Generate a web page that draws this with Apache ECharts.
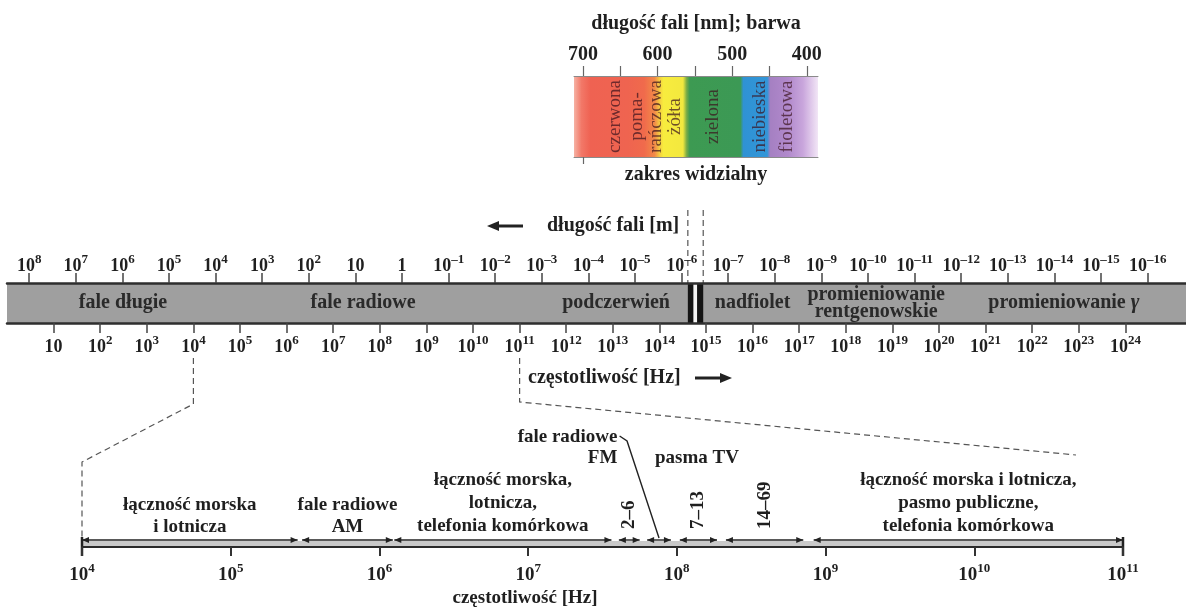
<!DOCTYPE html>
<html>
<head>
<meta charset="utf-8">
<script src="https://cdn.jsdelivr.net/npm/echarts@6/dist/echarts.min.js"></script>
<style>html,body{margin:0;padding:0;background:#fff}#c{width:1186px;height:608px}</style>
</head>
<body>
<div id="c"></div>
<script>
// ================= DATA =================
// main spectrum: frequency tick exponents (Hz) and wavelength tick exponents (m)
const freqTickExp = [1,2,3,4,5,6,7,8,9,10,11,12,13,14,15,16,17,18,19,20,21,22,23,24];
const waveTickExp = [8,7,6,5,4,3,2,1,0,-1,-2,-3,-4,-5,-6,-7,-8,-9,-10,-11,-12,-13,-14,-15,-16];
const spectrumRangeLogF = [0, 25.3];
const spectrumNames = ['fale długie', 'fale radiowe', 'podczerwień', 'nadfiolet', 'promieniowanie\nrentgenowskie', 'promieniowanie γ'];
const spectrumNameLogF = [2.49, 7.64, 13.07, 16.0, 18.65, 22.68];
const visibleBandLogF = [14.61, 14.94];

// visible light inset (nm)
const nmRange = [385, 712];
const nmTicks = [700, 650, 600, 550, 500, 450, 400];
const nmLabels = [700, 600, 500, 400];
const nmBottomTicks = [700];
const colorNames = ['czerwona', 'poma-\nrańczowa', 'żółta', 'zielona', 'niebieska', 'fioletowa'];
const colorNameNm = [657, 615, 577, 526, 463, 427];
const colorStopNm = [712, 702, 690, 640, 618, 604, 597, 592, 566, 561, 557, 489, 485, 453, 449, 425, 405, 385];
const colorStopHex = ['#f6b2a4','#f27868','#ef6252','#ef6450','#f06a4c','#f28a48','#f5cf40','#f8ec3e','#f3e83e','#79ab46','#3d9a52','#3c9955','#2f92d4','#3296d8','#a580c2','#b189cc','#c9a6dc','#f2e6f6'];

// radio zoom (log10 of Hz)
const zoomTickExp = [4,5,6,7,8,9,10,11];
const zoomRangeLogF = [[4,5.45],[5.48,6.09],[6.1,7.56],[7.61,7.75],[7.8,7.96],[8.02,8.27],[8.33,8.85],[8.92,11]];
const zoomRangeNames = ['łączność morska\ni lotnicza', 'fale radiowe\nAM', 'łączność morska,\nlotnicza,\ntelefonia komórkowa', '2–6', '', '7–13', '14–69', 'łączność morska i lotnicza,\npasmo publiczne,\ntelefonia komórkowa'];
const fmName = 'fale radiowe\nFM';
const tvName = 'pasma TV';

// ================= LAYOUT / STYLE =================
const SERIF = '"Liberation Serif", "Times New Roman", serif';
const INK = '#1f1f1f';
const FONT = 'bold 19px ' + SERIF;
const L = Math.log10(2.998e8);            // log10(c): shifts wavelength scale against frequency scale
const zoomLabelH = [31, 31, 44, 18, 0, 18, 18, 44];       // label height above zoom axis (px)
const zoomLabelRot = [false, false, false, true, false, true, true, false];
const fmAnchor = [7.6, 99];
const fmPointer = [[7.615, 111], [7.665, 106], [7.88, 9]];
const tvAnchor = [8.135, 89];

function pow10(e, big) {
  const b = big ? 'B' : 'b', s = big ? 'S' : 's';
  if (e === 0) return '{' + b + '|1}';
  if (e === 1) return '{' + b + '|10}';
  const t = e < 0 ? '–' + (-e) : '' + e;
  return '{' + b + '|10}{' + s + '|' + t + '}';
}
const rich = {
  b: {fontFamily: SERIF, fontWeight: 'bold', fontSize: 18, lineHeight: 22, verticalAlign: 'bottom', color: INK},
  s: {fontFamily: SERIF, fontWeight: 'bold', fontSize: 13, lineHeight: 11, verticalAlign: 'top', color: INK},
  B: {fontFamily: SERIF, fontWeight: 'bold', fontSize: 19, lineHeight: 23, verticalAlign: 'bottom', color: INK},
  S: {fontFamily: SERIF, fontWeight: 'bold', fontSize: 13, lineHeight: 11, verticalAlign: 'top', color: INK}
};

const textEl = (x, y, text, opt) => Object.assign({
  type: 'text', x: x, y: y,
  style: Object.assign({
    text: text, fill: INK, font: FONT,
    align: 'center', verticalAlign: 'middle', textAlign: 'center', textVerticalAlign: 'middle', lineHeight: 22
  }, opt && opt.style)
}, opt && opt.el);

function arrowHead(tip, dir, len, half) {
  return {type: 'polygon', shape: {points: [[tip[0], tip[1]], [tip[0] - dir * len, tip[1] - half], [tip[0] - dir * len, tip[1] + half]]}, style: {fill: '#222'}};
}

const chart = echarts.init(document.getElementById('c'), null, {renderer: 'canvas'});

const gradStops = colorStopNm.map((nm, i) => ({offset: (nmRange[1] - nm) / (nmRange[1] - nmRange[0]), color: colorStopHex[i]}));

const option = {
  animation: false,
  backgroundColor: '#ffffff',
  grid: [
    {left: 7, right: 0, top: 283, height: 40},
    {left: 82, right: 63, top: 440, height: 107},
    {left: 574, right: 368, top: 76, height: 81}
  ],
  xAxis: [
    { // frequency scale under main band
      gridIndex: 0, type: 'value', min: spectrumRangeLogF[0], max: spectrumRangeLogF[1], position: 'bottom', z: 10,
      axisLine: {show: true, onZero: false, lineStyle: {color: '#2e2e2e', width: 2.5}},
      axisTick: {show: true, customValues: freqTickExp, length: 10, lineStyle: {color: '#444', width: 1.5}},
      axisLabel: {show: true, customValues: freqTickExp, margin: 11, formatter: v => pow10(Math.round(v)), rich: rich},
      splitLine: {show: false}
    },
    { // wavelength scale above main band (value = -log10(lambda))
      gridIndex: 0, type: 'value', min: spectrumRangeLogF[0] - L, max: spectrumRangeLogF[1] - L, position: 'top', z: 10,
      axisLine: {show: true, onZero: false, lineStyle: {color: '#2e2e2e', width: 2.5}},
      axisTick: {show: true, customValues: waveTickExp.map(e => -e), length: 10, lineStyle: {color: '#444', width: 1.5}},
      axisLabel: {show: true, customValues: waveTickExp.map(e => -e), margin: 8, formatter: v => pow10(-Math.round(v)), rich: rich},
      splitLine: {show: false}
    },
    { // radio zoom axis
      gridIndex: 1, type: 'value', min: 4, max: 11, interval: 1, position: 'bottom', z: 10,
      axisLine: {show: true, onZero: false, lineStyle: {color: '#2a2a2a', width: 2}},
      axisTick: {show: true, customValues: zoomTickExp, length: 9, lineStyle: {color: '#333', width: 2}},
      axisLabel: {show: true, customValues: zoomTickExp, margin: 15, formatter: v => pow10(Math.round(v), true), rich: rich},
      splitLine: {show: false}
    },
    { // visible inset, top (nm)
      gridIndex: 2, type: 'value', min: nmRange[0], max: nmRange[1], inverse: true, position: 'top', z: 10,
      axisLine: {show: true, onZero: false, lineStyle: {color: '#8a8a8a', width: 1}},
      axisTick: {show: true, customValues: nmTicks, length: 10, lineStyle: {color: '#666', width: 1.2}},
      axisLabel: {show: true, customValues: nmLabels, margin: 11, fontFamily: SERIF, fontWeight: 'bold', fontSize: 20, color: INK},
      splitLine: {show: false}
    },
    { // visible inset, bottom
      gridIndex: 2, type: 'value', min: nmRange[0], max: nmRange[1], inverse: true, position: 'bottom', z: 10,
      axisLine: {show: true, onZero: false, lineStyle: {color: '#8a8a8a', width: 1}},
      axisTick: {show: true, customValues: nmBottomTicks, length: 7, lineStyle: {color: '#666', width: 1.2}},
      axisLabel: {show: false},
      splitLine: {show: false}
    }
  ],
  yAxis: [
    {gridIndex: 0, type: 'value', min: 0, max: 1, show: false},
    {gridIndex: 1, type: 'value', min: 0, max: 107, show: false},
    {gridIndex: 2, type: 'value', min: 0, max: 1, show: false}
  ],
  series: [
    { // main grey band
      type: 'custom', xAxisIndex: 0, yAxisIndex: 0, z: 1,
      data: [spectrumRangeLogF],
      renderItem: (p, api) => {
        const a = api.coord([api.value(0), 1]), b = api.coord([api.value(1), 0]);
        return {type: 'rect', shape: {x: a[0], y: a[1], width: b[0] - a[0], height: b[1] - a[1]}, style: {fill: '#9f9f9f'}};
      }
    },
    { // visible light marker in band
      type: 'custom', xAxisIndex: 0, yAxisIndex: 0, z: 2,
      data: [visibleBandLogF],
      renderItem: (p, api) => {
        const a = api.coord([api.value(0), 1]), b = api.coord([api.value(1), 0]);
        const w = b[0] - a[0];
        return {type: 'group', children: [
          {type: 'rect', shape: {x: a[0], y: a[1], width: w, height: b[1] - a[1]}, style: {fill: '#141414'}},
          {type: 'rect', shape: {x: a[0] + w * 0.36, y: a[1], width: w * 0.24, height: b[1] - a[1]}, style: {fill: '#f4f4f4'}}
        ]};
      }
    },
    { // band names
      type: 'custom', xAxisIndex: 0, yAxisIndex: 0, z: 3,
      data: spectrumNameLogF.map((x, i) => [x, 0.5, i]),
      renderItem: (p, api) => {
        const c = api.coord([api.value(0), api.value(1)]);
        const name = spectrumNames[api.value(2)];
        if (name.indexOf('γ') >= 0) {
          return {type: 'text', x: c[0], y: c[1], style: {
            text: '{n|' + name.replace(' γ', ' ') + '}{g|γ}', align: 'center', verticalAlign: 'middle',
            rich: {n: {fontFamily: SERIF, fontWeight: 'bold', fontSize: 20, fill: '#2a2a2a', color: '#2a2a2a'},
                   g: {fontFamily: SERIF, fontWeight: 'bold', fontStyle: 'italic', fontSize: 21, fill: '#2a2a2a', color: '#2a2a2a'}}
          }};
        }
        return textEl(c[0], c[1], name, {style: {fill: '#2a2a2a', font: 'bold 20px ' + SERIF, lineHeight: 17}});
      }
    },
    { // zoom: grey strip
      type: 'custom', xAxisIndex: 2, yAxisIndex: 1, z: 1,
      data: [[4, 11]],
      renderItem: (p, api) => {
        const a = api.coord([api.value(0), 6]), b = api.coord([api.value(1), 0]);
        return {type: 'rect', shape: {x: a[0], y: a[1], width: b[0] - a[0], height: b[1] - a[1]}, style: {fill: '#c9c9c9'}};
      }
    },
    { // zoom: double-headed range arrows
      type: 'custom', xAxisIndex: 2, yAxisIndex: 1, z: 4,
      data: zoomRangeLogF,
      renderItem: (p, api) => {
        const a = api.coord([api.value(0), 7]), b = api.coord([api.value(1), 7]);
        return {type: 'group', children: [
          {type: 'line', shape: {x1: a[0], y1: a[1], x2: b[0], y2: b[1]}, style: {stroke: '#222', lineWidth: 1.4}},
          arrowHead(a, -1, 7, 3),
          arrowHead(b, 1, 7, 3)
        ]};
      }
    },
    { // zoom: end bars
      type: 'custom', xAxisIndex: 2, yAxisIndex: 1, z: 5,
      data: [[zoomTickExp[0]], [zoomTickExp[zoomTickExp.length - 1]]],
      renderItem: (p, api) => {
        const a = api.coord([api.value(0), 10]), b = api.coord([api.value(0), -9]);
        return {type: 'line', shape: {x1: a[0], y1: a[1], x2: b[0], y2: b[1]}, style: {stroke: '#222', lineWidth: 2.5}};
      }
    },
    { // zoom: range names
      type: 'custom', xAxisIndex: 2, yAxisIndex: 1, z: 6,
      data: zoomRangeLogF.map((r, i) => [(r[0] + r[1]) / 2, zoomLabelH[i], i]),
      renderItem: (p, api) => {
        const i = api.value(2);
        const name = zoomRangeNames[i];
        if (!name) return null;
        const c = api.coord([api.value(0), api.value(1)]);
        if (zoomLabelRot[i]) {
          return textEl(c[0], c[1], name, {el: {rotation: Math.PI / 2}, style: {align: 'left', textAlign: 'left'}});
        }
        return textEl(c[0], c[1], name, {style: {lineHeight: name.split('\n').length > 2 ? 23 : 22}});
      }
    },
    { // zoom: FM label + pointer and TV label
      type: 'custom', xAxisIndex: 2, yAxisIndex: 1, z: 6,
      data: [[0]],
      renderItem: (p, api) => {
        const f = api.coord(fmAnchor), t = api.coord(tvAnchor);
        const pts = fmPointer.map(q => api.coord(q));
        return {type: 'group', children: [
          textEl(f[0], f[1], fmName, {style: {align: 'right', textAlign: 'right', lineHeight: 21}}),
          textEl(t[0], t[1], tvName),
          {type: 'polyline', shape: {points: pts}, style: {stroke: '#222', lineWidth: 1.4, fill: null}}
        ]};
      }
    },
    { // visible spectrum colour strip
      type: 'custom', xAxisIndex: 3, yAxisIndex: 2, z: 1,
      data: [[nmRange[1], nmRange[0]]],
      renderItem: (p, api) => {
        const a = api.coord([api.value(0), 1]), b = api.coord([api.value(1), 0]);
        return {type: 'rect', shape: {x: a[0], y: a[1], width: b[0] - a[0], height: b[1] - a[1]},
          style: {fill: new echarts.graphic.LinearGradient(0, 0, 1, 0, gradStops)}};
      }
    },
    { // colour names
      type: 'custom', xAxisIndex: 3, yAxisIndex: 2, z: 3,
      data: colorNameNm.map((nm, i) => [nm, 0.5, i]),
      renderItem: (p, api) => {
        const c = api.coord([api.value(0), api.value(1)]);
        return textEl(c[0], c[1], colorNames[api.value(2)], {el: {rotation: Math.PI / 2},
          style: {font: '19px ' + SERIF, fill: 'rgba(60,20,30,0.72)', lineHeight: 19}});
      }
    }
  ]
};

chart.setOption(option);

// ---- decorations tied to the axes ----
const A = v => chart.convertToPixel({gridIndex: 0}, v);
const B = v => chart.convertToPixel({gridIndex: 1}, v);
const a4 = A([4, 0]), a11 = A([11, 0]);
const b4 = B([4, 0]), b11 = B([11, 0]);
const v0 = A([visibleBandLogF[0], 1]), v1 = A([visibleBandLogF[1], 1]);
const dash = {stroke: '#555', lineWidth: 1.2, lineDash: [6, 4], fill: null};

const graphic = [
  {type: 'polyline', shape: {points: [[a4[0], a4[1] + 35], [a4[0], a4[1] + 81], [b4[0], b4[1] - 85], [b4[0], b4[1] - 8]]}, style: dash},
  {type: 'polyline', shape: {points: [[a11[0], a11[1] + 35], [a11[0], a11[1] + 79], [b11[0] - 47, b11[1] - 92]]}, style: dash},
  {type: 'line', shape: {x1: v0[0], y1: 210, x2: v0[0], y2: v0[1]}, style: dash},
  {type: 'line', shape: {x1: v1[0], y1: 210, x2: v1[0], y2: v1[1]}, style: dash},
  textEl(696, 24, 'długość fali [nm]; barwa', {style: {font: 'bold 20px ' + SERIF}}),
  textEl(696, 175, 'zakres widzialny', {style: {font: 'bold 20px ' + SERIF}}),
  textEl(547, 226, 'długość fali [m]', {style: {align: 'left', textAlign: 'left', font: 'bold 20px ' + SERIF}}),
  textEl(528, 378, 'częstotliwość [Hz]', {style: {align: 'left', textAlign: 'left', font: 'bold 20px ' + SERIF}}),
  textEl(525, 598, 'częstotliwość [Hz]'),
  {type: 'line', shape: {x1: 496, y1: 226, x2: 523, y2: 226}, style: {stroke: '#222', lineWidth: 3}},
  arrowHead([487, 226], -1, 12, 5),
  {type: 'line', shape: {x1: 695, y1: 378, x2: 723, y2: 378}, style: {stroke: '#222', lineWidth: 3}},
  arrowHead([732, 378], 1, 12, 5)
];
chart.setOption({graphic: graphic});
</script>
</body>
</html>
